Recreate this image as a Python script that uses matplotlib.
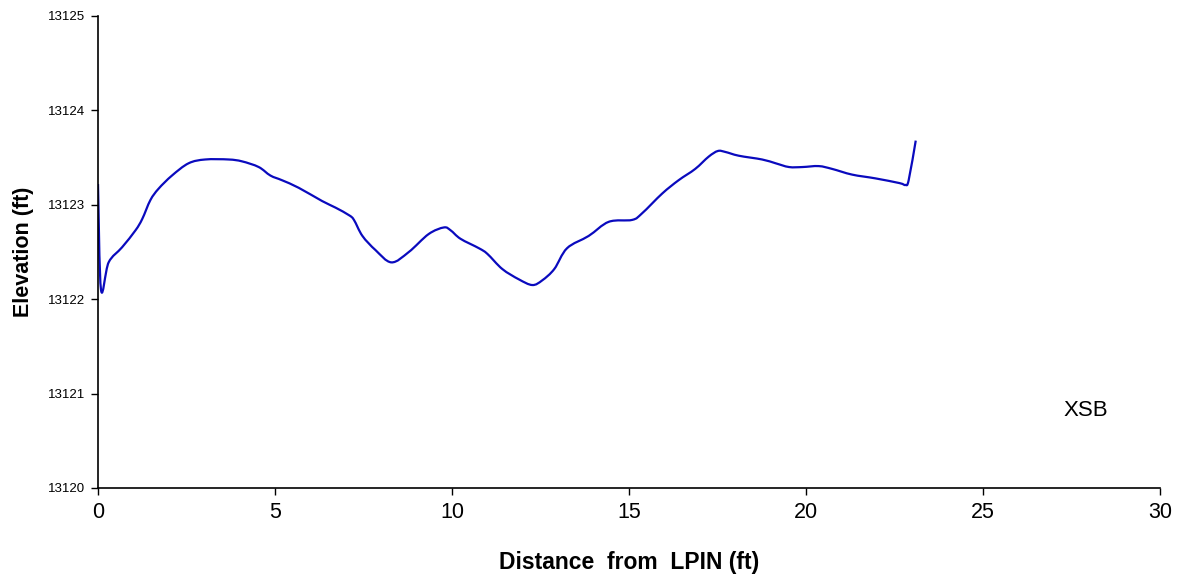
import matplotlib
matplotlib.use("Agg")
import matplotlib.pyplot as plt
from matplotlib.path import Path
from matplotlib.patches import PathPatch

# Surveyed cross-section XSB: distance from left pin vs. ground elevation
distance_ft = [0.0, 0.085, 0.30, 0.68, 1.06, 1.25, 1.48, 1.71, 2.09, 2.56, 3.03,
               3.69, 4.07, 4.54, 4.87, 5.20, 5.67, 6.33, 6.71, 7.09, 7.23, 7.47,
               7.84, 8.29, 8.78, 9.34, 9.77, 9.96, 10.24, 10.76, 11.0, 11.42,
               11.89, 12.27, 12.55, 12.89, 13.25, 13.86, 14.43, 15.09, 15.37,
               15.94, 16.40, 16.87, 17.25, 17.51, 17.72, 18.10, 18.76, 19.14,
               19.52, 19.90, 20.36, 20.74, 21.30, 21.96, 22.64, 22.81, 22.90, 23.10]
elevation_ft = [13123.22, 13122.10, 13122.39, 13122.55, 13122.73, 13122.85,
                13123.05, 13123.17, 13123.31, 13123.44, 13123.48, 13123.48,
                13123.46, 13123.40, 13123.31, 13123.26, 13123.18, 13123.04,
                13122.97, 13122.89, 13122.84, 13122.67, 13122.52, 13122.39,
                13122.50, 13122.69, 13122.76, 13122.73, 13122.64, 13122.54,
                13122.48, 13122.32, 13122.21, 13122.15, 13122.20, 13122.32,
                13122.54, 13122.67, 13122.82, 13122.84, 13122.91, 13123.12,
                13123.26, 13123.38, 13123.51, 13123.57, 13123.56, 13123.52,
                13123.48, 13123.44, 13123.40, 13123.40, 13123.41, 13123.38,
                13123.32, 13123.28, 13123.23, 13123.21, 13123.26, 13123.68]

x_ticks = [0, 5, 10, 15, 20, 25, 30]
y_ticks = [13120, 13121, 13122, 13123, 13124, 13125]
section_name = "XSB"


def smoothed_path(xs, ys):
    """Cubic Bezier path through every point (Catmull-Rom style tangents)."""
    pts = list(zip(xs, ys))
    n = len(pts)
    verts = [pts[0]]
    codes = [Path.MOVETO]
    for i in range(n - 1):
        p0 = pts[i - 1] if i > 0 else pts[i]
        p1 = pts[i]
        p2 = pts[i + 1]
        p3 = pts[i + 2] if i + 2 < n else pts[i + 1]
        c1 = (p1[0] + (p2[0] - p0[0]) / 6, p1[1] + (p2[1] - p0[1]) / 6)
        c2 = (p2[0] - (p3[0] - p1[0]) / 6, p2[1] - (p3[1] - p1[1]) / 6)
        verts += [c1, c2, p2]
        codes += [Path.CURVE4] * 3
    return Path(verts, codes)


plt.rcParams['font.family'] = ['Liberation Sans', 'DejaVu Sans']

fig = plt.figure(figsize=(11.8, 5.8), dpi=100)
ax = fig.add_axes([98 / 1180, 1 - 488 / 580, (1160 - 98) / 1180, (488 - 16) / 580])

profile = PathPatch(smoothed_path(distance_ft, elevation_ft), facecolor='none',
                    edgecolor='#0A0ABE', linewidth=1.6, joinstyle='round',
                    capstyle='butt', transform=ax.transData)
ax.add_patch(profile)

ax.set_xlim(0, 30)
ax.set_ylim(13120, 13125)
ax.set_xticks(x_ticks)
ax.set_yticks(y_ticks)
ax.set_xticklabels([str(t) for t in x_ticks], fontsize=15.5)
ax.set_yticklabels([str(t) for t in y_ticks], fontsize=9.5)
ax.tick_params(axis='both', direction='out', length=5, width=1, color='black')
ax.tick_params(axis='x', pad=5)
ax.tick_params(axis='y', pad=4)

for side in ('top', 'right'):
    ax.spines[side].set_visible(False)
for side in ('left', 'bottom'):
    ax.spines[side].set_linewidth(1.2)
    ax.spines[side].set_color('black')

ax.set_xlabel("Distance  from  LPIN (ft)", fontsize=16.5, fontweight='bold', labelpad=20)
ax.set_ylabel("Elevation (ft)", fontsize=15.5, fontweight='bold', labelpad=10)

ax.text(27.9, 13120.82, section_name, fontsize=16, ha='center', va='center')

fig.savefig("out.png", dpi=100)
